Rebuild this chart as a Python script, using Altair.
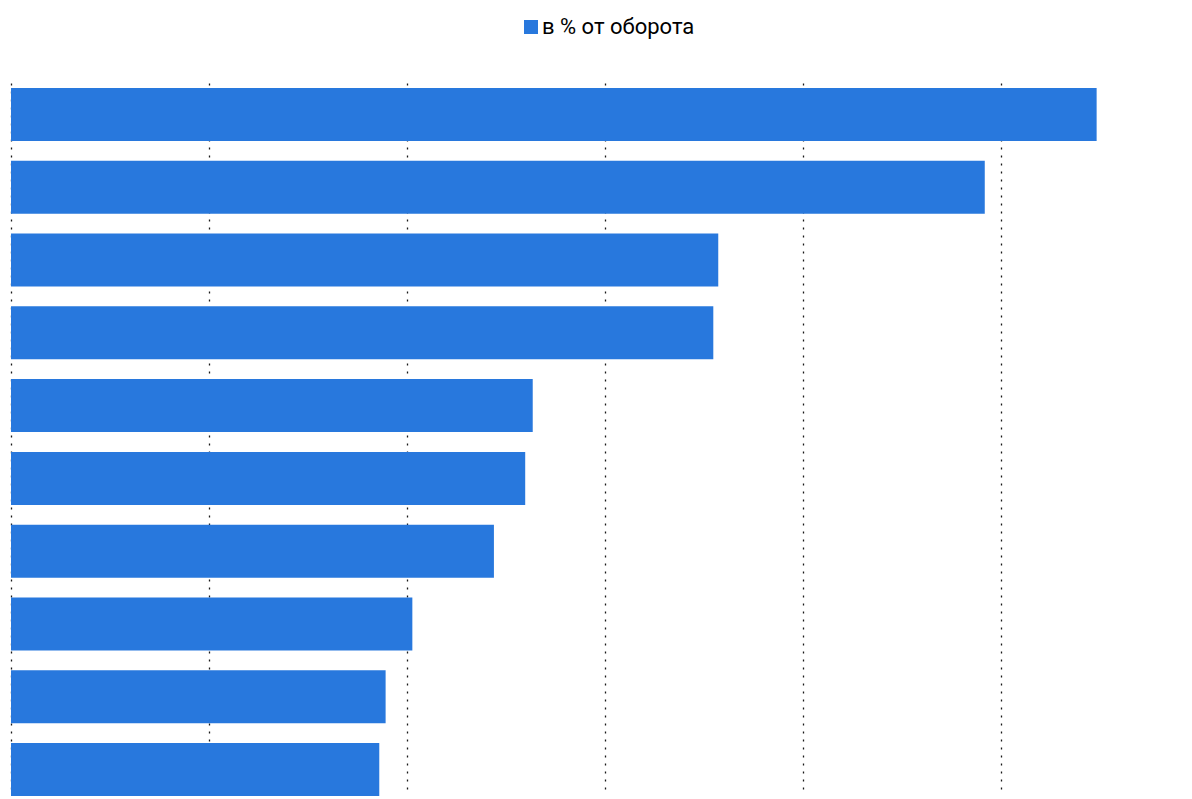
import altair as alt
import pandas as pd

categories = ["Категория 1", "Категория 2", "Категория 3", "Категория 4", "Категория 5",
              "Категория 6", "Категория 7", "Категория 8", "Категория 9", "Категория 10"]
values = [5.483, 4.918, 3.572, 3.547, 2.635, 2.597, 2.439, 2.027, 1.892, 1.860]
series_name = "в % от оборота"
tick_values = [0, 1, 2, 3, 4, 5]

df = pd.DataFrame({"cat": categories, "val": values, "series": [series_name] * len(values)})

W = 1169
H = 721

chart = alt.Chart(df).mark_bar(color="#2878DD").encode(
    x=alt.X("val:Q",
            scale=alt.Scale(domain=[0, W / 198], nice=False, zero=True),
            axis=alt.Axis(values=tick_values, labels=False, ticks=False, domain=False,
                          grid=True, gridColor="#1a1a1a", gridDash=[2, 6], gridWidth=1.3,
                          gridOpacity=1, title=None, orient="bottom")),
    y=alt.Y("cat:N", sort=categories,
            scale=alt.Scale(range=[10, 718], paddingInner=0.272, paddingOuter=0),
            axis=None),
    color=alt.Color("series:N",
                    scale=alt.Scale(domain=[series_name], range=["#2878DD"]),
                    legend=alt.Legend(orient="none", legendX=509, legendY=-62,
                                      title=None, symbolType="square", symbolSize=196,
                                      symbolStrokeWidth=0, labelFontSize=22,
                                      labelFont="Roboto", labelLimit=0,
                                      labelColor="#000000", labelOffset=0,
                                      direction="horizontal")),
).properties(
    width=W, height=H,
    background="white",
    autosize=alt.AutoSizeParams(type="none"),
    padding={"left": 3, "top": 70, "right": 0, "bottom": 0},
).configure_view(strokeWidth=0, stroke="transparent")

chart.save("out.html", embed_options={"renderer": "svg", "actions": False})
